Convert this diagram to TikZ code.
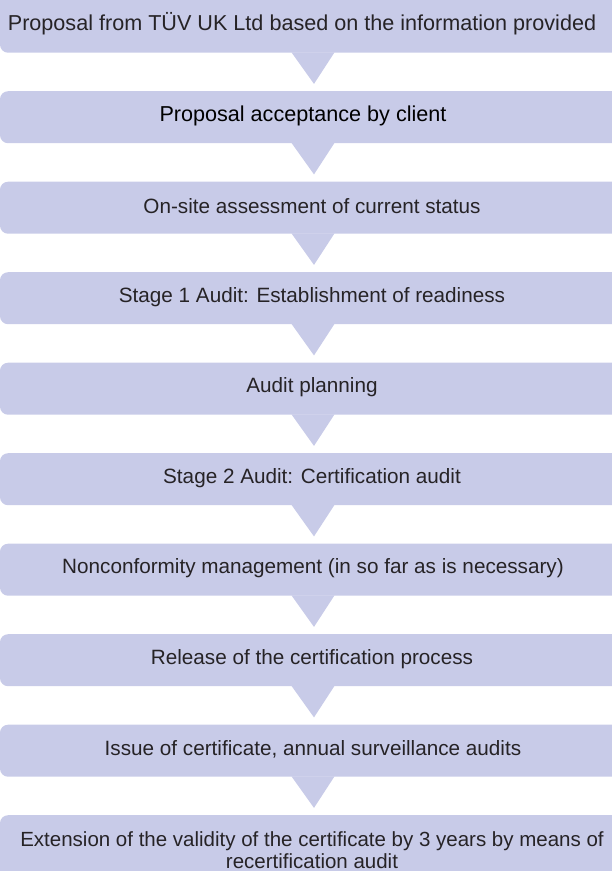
\documentclass[tikz,border=0pt]{standalone}
\usepackage{fontspec}
\setmainfont{Liberation Sans}
\definecolor{boxfill}{RGB}{200,203,232}
\definecolor{txt}{RGB}{38,35,38}
\begin{document}
\begin{tikzpicture}[x=1pt,y=-1pt,
  stepbox/.style={fill=boxfill, rounded corners=8pt, minimum width=626pt, minimum height=52pt, inner sep=0pt, anchor=north},
  steptext/.style={font=\fontsize{20.7}{22}\selectfont, text=txt, inner sep=0pt, align=center},
  bigtext/.style={steptext, font=\fontsize{21.6}{22}\selectfont},
  pointer/.style={fill=boxfill}]
\useasboundingbox (0,0) rectangle (612,871);
\clip (0,0) rectangle (612,871);
% boxes
\node[stepbox, minimum height=62.5pt] (b1) at (313,-10) {};
\node[stepbox] (b2) at (313,91) {};
\node[stepbox] (b3) at (313,181.5) {};
\node[stepbox] (b4) at (313,272) {};
\node[stepbox] (b5) at (313,362.5) {};
\node[stepbox] (b6) at (313,453) {};
\node[stepbox] (b7) at (313,543.5) {};
\node[stepbox] (b8) at (313,634) {};
\node[stepbox] (b9) at (313,724.5) {};
\node[stepbox, minimum height=90pt] (b10) at (313,815) {};
% pointers
\foreach \a/\b in {b1/b2,b2/b3,b3/b4,b4/b5,b5/b6,b6/b7,b7/b8,b8/b9,b9/b10}{
  \fill[pointer] ([xshift=-21.5pt,yshift=0.5pt]\a.south) -- ([xshift=1pt,yshift=-31pt]\a.south) -- ([xshift=21.5pt,yshift=0.5pt]\a.south) -- cycle;
}
% texts
\node[bigtext] (t1) at (302,23.5) {Proposal from TÜV UK Ltd based on the information provided};
\node[bigtext, text=black] (t2) at (303,115.5) {Proposal acceptance by client};
\node[steptext] (t3) at (312,206.5) {On-site assessment of current status};
\node[steptext] (t4) at (312,297) {Stage 1 Audit: Establishment of readiness};
\node[steptext] (t5) at (312,387.5) {Audit planning};
\node[steptext] (t6) at (312,478) {Stage 2 Audit: Certification audit};
\node[steptext] (t7) at (313,568.5) {Nonconformity management (in so far as is necessary)};
\node[steptext] (t8) at (312,659) {Release of the certification process};
\node[steptext] (t9) at (313,749.5) {Issue of certificate, annual surveillance audits};
\node[steptext, font=\fontsize{20.5}{22}\selectfont] (t10) at (312,850) {Extension of the validity of the certificate by 3 years by means of\\recertification audit};
\end{tikzpicture}
\end{document}
